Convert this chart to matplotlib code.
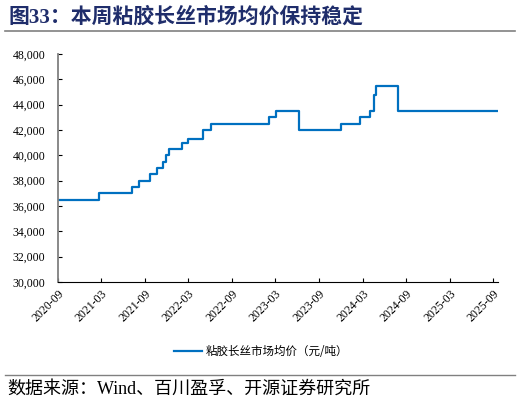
import matplotlib.pyplot as plt
import matplotlib.dates as mdates
from matplotlib.ticker import FuncFormatter
import pandas as pd

# 粘胶长丝市场均价（元/吨），阶梯变化的日期与价格
dates = ["2020-09-01", "2021-02-20", "2021-07-10", "2021-08-05", "2021-09-20",
         "2021-10-20", "2021-11-15", "2021-11-28", "2021-12-12", "2022-02-05",
         "2022-02-28", "2022-05-01", "2022-06-03", "2023-02-01", "2023-03-05",
         "2023-06-07", "2023-12-03", "2024-02-18", "2024-04-01", "2024-04-18",
         "2024-04-25", "2024-07-28", "2025-09-19"]
prices = [36500, 37000, 37500, 38000, 38500,
          39000, 39500, 40000, 40500, 41000,
          41300, 42000, 42500, 43000, 43500,
          42000, 42500, 43000, 43500, 44800,
          45500, 43500, 43500]
tick_labels = ["2020-09", "2021-03", "2021-09", "2022-03", "2022-09", "2023-03",
               "2023-09", "2024-03", "2024-09", "2025-03", "2025-09"]

x = pd.to_datetime(dates)
ticks = pd.to_datetime([t + "-01" for t in tick_labels])

cjk = ["Noto Sans CJK SC", "DejaVu Sans"]
serif_cjk = ["Liberation Serif", "Noto Sans CJK SC"]

fig = plt.figure(figsize=(5.21, 4.05), dpi=100)
ax = fig.add_axes([58 / 521, 1 - 282 / 405, 440 / 521, 228 / 405])

line_color = "#0070C0"
ax.plot(x, prices, drawstyle="steps-post", color=line_color, lw=1.6,
        label="粘胶长丝市场均价（元/吨）")

ax.set_ylim(30000, 48000)
ax.set_yticks(range(30000, 48001, 2000))
ax.yaxis.set_major_formatter(FuncFormatter(lambda v, p: f"{int(v):,}"))
ax.set_xlim(pd.Timestamp("2020-09-01"), pd.Timestamp("2025-09-20"))
ax.set_xticks(ticks)
ax.set_xticklabels(tick_labels, rotation=45, ha="right", va="top",
                   rotation_mode="anchor")

for s in ["top", "right"]:
    ax.spines[s].set_visible(False)
ax.spines["left"].set_color("#808080")
ax.spines["left"].set_linewidth(1.3)
ax.spines["bottom"].set_color("black")
ax.spines["bottom"].set_linewidth(0.8)
ax.tick_params(axis="both", direction="in", length=3, width=0.8,
               labelsize=8.5, pad=4)
ax.tick_params(axis="y", pad=9)
for lab in ax.get_xticklabels() + ax.get_yticklabels():
    lab.set_family("Liberation Serif")

leg = ax.legend(loc="upper center", bbox_to_anchor=(0.462, -0.23), frameon=False,
                prop={"family": cjk, "size": 8.3}, handlelength=2.4,
                handletextpad=0.3)

fig.text(8 / 521, 1 - 17 / 405, "图33：本周粘胶长丝市场均价保持稳定",
         family=serif_cjk, fontweight="bold", fontsize=15, color="#1F2D6B",
         va="center", ha="left")
fig.add_artist(plt.Line2D([5 / 521, 515 / 521], [1 - 31 / 405, 1 - 31 / 405],
                          color="#808080", lw=1.2))
fig.add_artist(plt.Line2D([5 / 521, 515 / 521], [1 - 375 / 405, 1 - 375 / 405],
                          color="#808080", lw=1.0))
fig.text(7 / 521, 1 - 389 / 405, "数据来源：Wind、百川盈孚、开源证券研究所",
         family=serif_cjk, fontsize=13, color="black", va="center", ha="left")

fig.savefig("out.png", dpi=100)
